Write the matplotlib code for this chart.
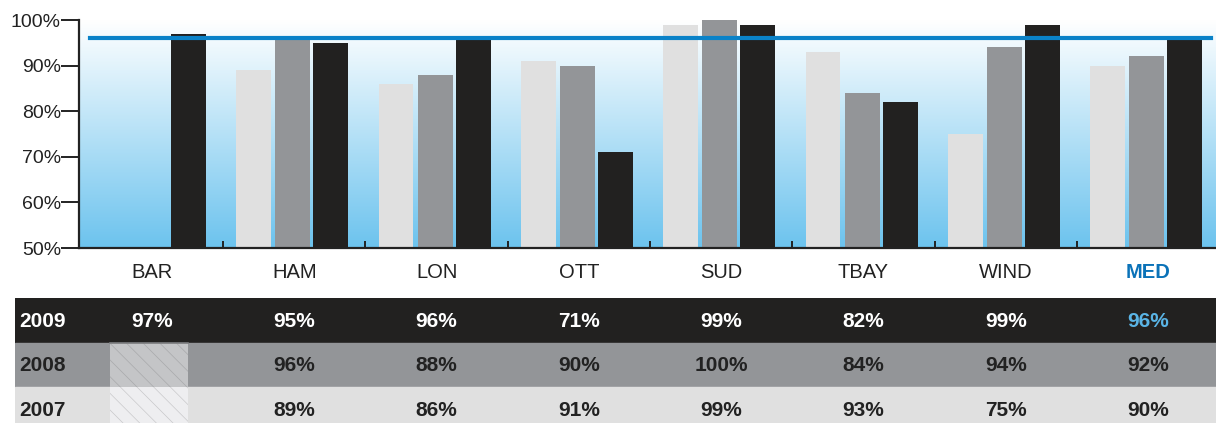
import numpy as np
import matplotlib
matplotlib.use("Agg")
from matplotlib import pyplot as plt
from matplotlib.patches import Rectangle

plt.rcParams['font.family'] = ['Liberation Sans', 'DejaVu Sans']
plt.rcParams['hatch.linewidth'] = 0.5

# data
sites = ['BAR', 'HAM', 'LON', 'OTT', 'SUD', 'TBAY', 'WIND', 'MED']
years = ['2007', '2008', '2009']
v2007 = [np.nan, 89, 86, 91, 99, 93, 75, 90]
v2008 = [np.nan, 96, 88, 90, 100, 84, 94, 92]
v2009 = [97, 95, 96, 71, 99, 82, 99, 96]
target = 96
yticks = [50, 60, 70, 80, 90, 100]

bar_colors = ['#e0e0e0', '#939598', '#222120']
line_color = '#0a82c8'
dark = '#222222'

W, H = 1216, 423
fig = plt.figure(figsize=(W / 100, H / 100), dpi=100)

# pixel layout -> data units (category pitch ~142.3 px, first centre at 152 px)
pitch, c0 = 142.3, 152
def px2x(p):
    return (p - c0) / pitch

ax = fig.add_axes([79 / W, (H - 248) / H, (W - 79) / W, (248 - 20) / H])
x = np.arange(len(sites))
ax.set_xlim(px2x(79), px2x(W))
ax.set_ylim(50, 100)

# gradient background
grad = np.linspace(0, 1, 256).reshape(-1, 1)
cmap = matplotlib.colors.LinearSegmentedColormap.from_list('bg', ['#6cc3ee', '#ffffff'])
ax.imshow(grad, extent=[px2x(79), px2x(W), 50, 100], origin='lower', aspect='auto',
          cmap=cmap, zorder=0)

w = 0.245
offs = [-0.285, -0.01, 0.257]
for vals, off, col in zip([v2007, v2008, v2009], offs, bar_colors):
    ax.bar(x + off, np.array(vals, dtype=float) - 50, bottom=50, width=w, color=col, zorder=2)

ax.axhline(target, xmin=(90 - 79) / (W - 79), xmax=(1211 - 79) / (W - 79),
           color=line_color, lw=3, zorder=3)

for s in ['top', 'right']:
    ax.spines[s].set_visible(False)
for s in ['left', 'bottom']:
    ax.spines[s].set_color(dark)
    ax.spines[s].set_linewidth(1.6)
    ax.spines[s].set_zorder(4)

ax.set_yticks(yticks)
ax.set_yticklabels([f'{t}%' for t in yticks], fontsize=14, color=dark)
ax.tick_params(axis='y', direction='out', length=13, width=1.4, color=dark, pad=0)

ax.set_xticks(x[:-1] + 0.5)
ax.set_xticklabels([])
ax.tick_params(axis='x', direction='in', length=5, width=1.4, color=dark)
for xi, name in zip(x, sites):
    if name == 'MED':
        ax.text(xi, 50 - 3.3, name, ha='center', va='top', fontsize=14.5,
                fontweight='bold', color='#0a72b8')
    else:
        ax.text(xi, 50 - 3.3, name, ha='center', va='top', fontsize=14.5, color=dark)

# data table below
tb = fig.add_axes([15 / W, 0, (W - 15) / W, (H - 298) / H])
tb.set_xlim(px2x(15), px2x(W))
tb.set_ylim(125 / 44.5, 0)
tb.axis('off')
row_years = ['2009', '2008', '2007']
row_vals = [v2009, v2008, v2007]
row_bg = ['#222120', '#939598', '#e0e0e0']
row_fg = ['white', dark, dark]
for i, (yr, vals, bg, fg) in enumerate(zip(row_years, row_vals, row_bg, row_fg)):
    tb.axhspan(i, i + 1, color=bg, zorder=0)
    tb.text(px2x(19), i + 0.52, yr, ha='left', va='center', fontsize=15,
            fontweight='bold', color=fg)
    for xi, v in zip(x, vals):
        if np.isnan(v):
            hb = '#c4c5c7' if i == 1 else '#eeeef0'
            hc = '#a8a9ab' if i == 1 else '#c8c8ca'
            tb.add_patch(Rectangle((px2x(110), i), px2x(188) - px2x(110), 1,
                                   facecolor=hb, edgecolor=hc, hatch='\\\\',
                                   lw=0, zorder=1))
            continue
        c = '#5ab4e5' if (i == 0 and sites[xi] == 'MED') else fg
        tb.text(xi, i + 0.52, f'{v:.0f}%', ha='center', va='center', fontsize=15,
                fontweight='bold', color=c)
# darker edge along top of the empty cell
tb.plot([px2x(110), px2x(188)], [1, 1], color='#7a7b7d', lw=1.2, zorder=2)

fig.savefig('out.png', dpi=100)
